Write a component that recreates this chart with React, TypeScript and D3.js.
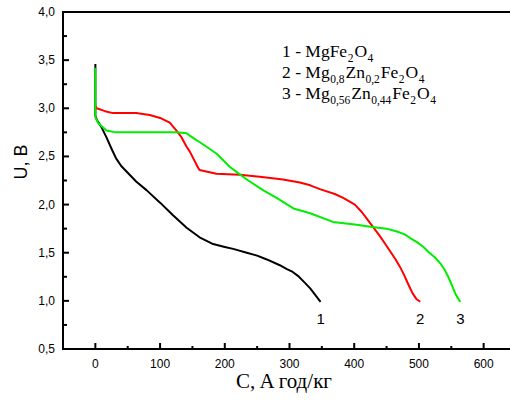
import { useMemo } from "react";
import * as d3 from "d3";

const WIDTH = 510;
const HEIGHT = 402;
const MARGIN = { top: 12, right: -6, bottom: 53, left: 63 };

// curve 1 - MgFe2O4
const c1 = [0, 0, 3, 9, 17, 25, 32, 40, 50, 63, 79, 100, 120, 141, 161, 182, 200, 213, 234, 250, 265, 285, 296, 305, 313, 322, 332, 340, 348];
const u1 = [3.46, 2.92, 2.87, 2.81, 2.7, 2.58, 2.48, 2.4, 2.33, 2.24, 2.15, 2.02, 1.89, 1.76, 1.66, 1.59, 1.56, 1.54, 1.5, 1.47, 1.43, 1.37, 1.33, 1.3, 1.26, 1.2, 1.13, 1.06, 0.99];

// curve 2 - Mg0.8Zn0.2Fe2O4
const c2 = [0, 2, 15, 27, 45, 63, 84, 100, 115, 125, 133, 141, 146, 159, 161, 187, 223, 254, 290, 316, 332, 347, 370, 383, 401, 412, 422, 431, 440, 448, 456, 464, 471, 477, 483, 490, 496, 502];
const u2 = [3.03, 3.0, 2.97, 2.95, 2.95, 2.95, 2.93, 2.9, 2.85, 2.77, 2.7, 2.6, 2.55, 2.38, 2.36, 2.32, 2.31, 2.29, 2.26, 2.23, 2.2, 2.16, 2.11, 2.07, 2.0, 1.92, 1.83, 1.75, 1.67, 1.59, 1.51, 1.43, 1.35, 1.27, 1.18, 1.08, 1.02, 0.99];

// curve 3 - Mg0.56Zn0.44Fe2O4
const c3 = [0, 0, 4, 17, 32, 79, 125, 141, 156, 161, 187, 208, 218, 234, 259, 280, 306, 332, 367, 404, 425, 450, 466, 478, 487, 497, 507, 516, 525, 533, 540, 546, 551, 556, 560, 564];
const u3 = [3.42, 2.91, 2.85, 2.77, 2.75, 2.75, 2.75, 2.74, 2.67, 2.65, 2.53, 2.39, 2.34, 2.26, 2.15, 2.07, 1.96, 1.91, 1.82, 1.79, 1.77, 1.75, 1.72, 1.69, 1.65, 1.61, 1.56, 1.5, 1.45, 1.39, 1.32, 1.24, 1.16, 1.08, 1.03, 0.99];

const xTicks = [0, 100, 200, 300, 400, 500, 600];
const xMinor = [-50, 50, 150, 250, 350, 450, 550, 650];
const yTicks = [0.5, 1.0, 1.5, 2.0, 2.5, 3.0, 3.5, 4.0];
const yMinor = [0.75, 1.25, 1.75, 2.25, 2.75, 3.25, 3.75];

const series = [
  { c: c1, u: u1, color: "#000000", label: "1" },
  { c: c2, u: u2, color: "#ff0000", label: "2" },
  { c: c3, u: u3, color: "#00ee00", label: "3" },
];

const SANS = "'Liberation Sans', Arial, sans-serif";
const SERIF = "'Liberation Serif', 'Times New Roman', serif";

export default function App() {
  const boundsWidth = WIDTH - MARGIN.left - MARGIN.right;
  const boundsHeight = HEIGHT - MARGIN.top - MARGIN.bottom;

  const xScale = useMemo(() => d3.scaleLinear().domain([-50, 650]).range([0, boundsWidth]), [boundsWidth]);
  const yScale = useMemo(() => d3.scaleLinear().domain([0.5, 4]).range([boundsHeight, 0]), [boundsHeight]);

  const line = d3
    .line<[number, number]>()
    .x((d) => xScale(d[0]))
    .y((d) => yScale(d[1]));

  const fmt = (v: number) => v.toFixed(1).replace(".", ",");

  // subscript, then back up to the baseline
  const sub = (t: string) => (
    <tspan fontSize={11.5} dy={5} dx={0.5}>{t}</tspan>
  );
  const base = (t: string) => (
    <tspan dy={-5} dx={1}>{t}</tspan>
  );

  return (
    <div style={{ position: "absolute", left: 0, top: 0 }}>
      <svg width={WIDTH} height={HEIGHT} style={{ display: "block", background: "#fff" }}>
        <g transform={`translate(${MARGIN.left},${MARGIN.top})`}>
          {series.map((s, i) => (
            <path
              key={i}
              d={line(s.c.map((c, j) => [c, s.u[j]] as [number, number])) ?? ""}
              fill="none"
              stroke={s.color}
              strokeWidth={2}
              strokeLinejoin="round"
            />
          ))}
          {series.map((s, i) => (
            <text
              key={"l" + i}
              x={xScale(s.c[s.c.length - 1])}
              y={yScale(0.99) + 22}
              textAnchor="middle"
              fontFamily={SANS}
              fontSize={15}
            >
              {s.label}
            </text>
          ))}

          {/* frame */}
          <line x1={0} x2={boundsWidth + 10} y1={0} y2={0} stroke="#000" strokeWidth={2} />
          <line x1={0} x2={boundsWidth + 10} y1={boundsHeight} y2={boundsHeight} stroke="#000" strokeWidth={2} />
          <line x1={0} x2={0} y1={-1} y2={boundsHeight + 1} stroke="#000" strokeWidth={2} />

          {xTicks.map((t) => (
            <g key={"x" + t}>
              <line x1={xScale(t)} x2={xScale(t)} y1={boundsHeight} y2={boundsHeight - 6} stroke="#000" strokeWidth={2} />
              <text x={xScale(t)} y={boundsHeight + 19} textAnchor="middle" fontFamily={SANS} fontSize={12}>
                {t}
              </text>
            </g>
          ))}
          {xMinor.map((t) => (
            <line key={"xm" + t} x1={xScale(t)} x2={xScale(t)} y1={boundsHeight} y2={boundsHeight - 3} stroke="#000" strokeWidth={2} />
          ))}
          {yTicks.map((t) => (
            <g key={"y" + t}>
              <line x1={0} x2={6} y1={yScale(t)} y2={yScale(t)} stroke="#000" strokeWidth={2} />
              <text x={-8} y={yScale(t) + 4} textAnchor="end" fontFamily={SANS} fontSize={12}>
                {fmt(t)}
              </text>
            </g>
          ))}
          {yMinor.map((t) => (
            <line key={"ym" + t} x1={0} x2={4} y1={yScale(t)} y2={yScale(t)} stroke="#000" strokeWidth={2} />
          ))}
        </g>

        {/* legend */}
        <g fontFamily={SERIF} fontSize={17.5}>
          <text x={282} y={57}>
            1 - MgFe{sub("2")}{base("O")}{sub("4")}
          </text>
          <text x={282} y={78}>
            2 - Mg{sub("0,8")}{base("Zn")}{sub("0,2")}{base("Fe")}{sub("2")}{base("O")}{sub("4")}
          </text>
          <text x={282} y={99}>
            3 - Mg{sub("0,56")}{base("Zn")}{sub("0,44")}{base("Fe")}{sub("2")}{base("O")}{sub("4")}
          </text>
        </g>

        <text x={284} y={388} textAnchor="middle" fontFamily={SERIF} fontSize={21}>
          C, A год/кг
        </text>
        <text
          transform="translate(27,162) rotate(-90)"
          textAnchor="middle"
          fontFamily={SANS}
          fontSize={18}
        >
          U, B
        </text>
      </svg>
    </div>
  );
}
